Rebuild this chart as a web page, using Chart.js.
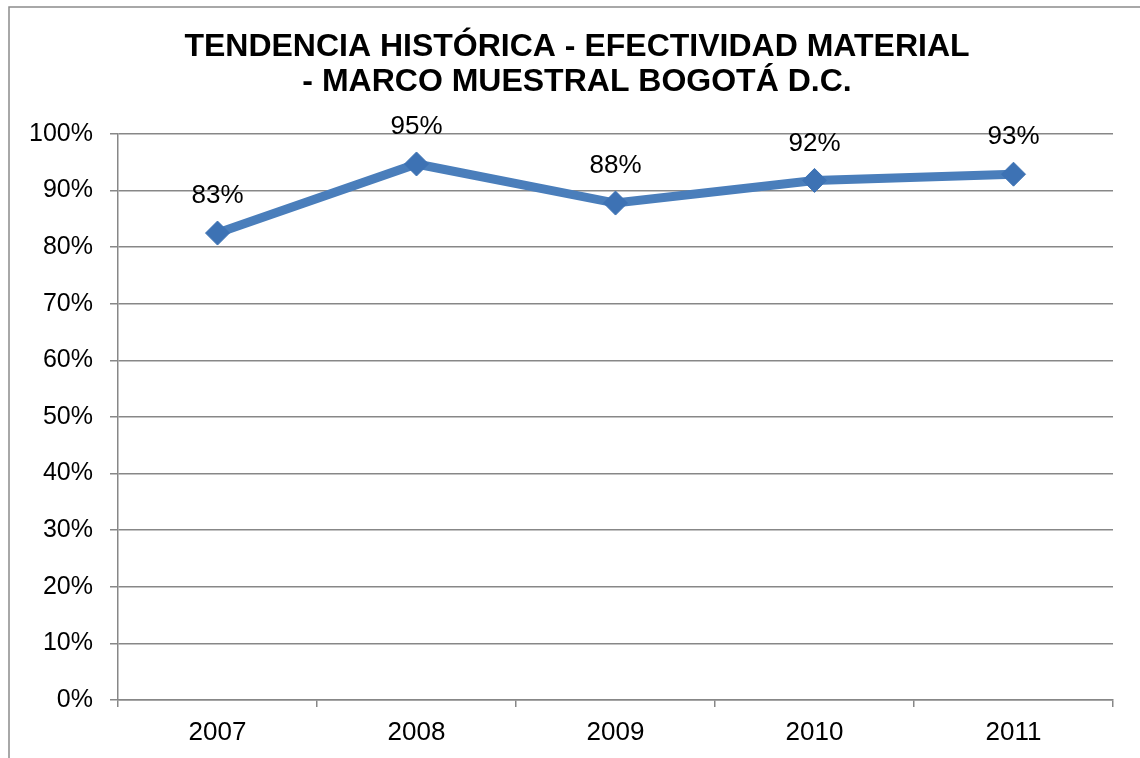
<!DOCTYPE html>
<html>
<head>
<meta charset="utf-8">
<script src="https://cdn.jsdelivr.net/npm/chart.js@4"></script>
<style>
  html, body { margin: 0; padding: 0; background: #fff; }
  #wrap { width: 1140px; height: 758px; }
</style>
</head>
<body>
<div id="wrap"><canvas id="trendChart" width="1140" height="758"></canvas></div>
<script>
var years = ['2007', '2008', '2009', '2010', '2011'];
var efectividad = [82.5, 94.7, 87.8, 91.8, 92.9];
var etiquetas = ['83%', '95%', '88%', '92%', '93%'];
var titleLines = ['TENDENCIA HISTÓRICA - EFECTIVIDAD MATERIAL', '- MARCO MUESTRAL BOGOTÁ D.C.'];

var FONT = '"Liberation Sans", Arial, sans-serif';
var GRID = '#878787';

// frame + title + point labels
var decor = {
  id: 'decor',
  beforeDraw: function(chart) {
    var ctx = chart.ctx;
    ctx.save();
    ctx.fillStyle = '#fff';
    ctx.fillRect(0, 0, chart.width, chart.height);
    ctx.strokeStyle = '#8c8c8c';
    ctx.lineWidth = 1.5;
    ctx.strokeRect(9, 7, chart.width + 20, chart.height + 20);
    ctx.restore();
  },
  afterDraw: function(chart) {
    var ctx = chart.ctx;
    ctx.save();
    ctx.fillStyle = '#000';
    ctx.textAlign = 'center';
    ctx.textBaseline = 'middle';
    ctx.font = 'bold 32px ' + FONT;
    ctx.fillText(titleLines[0], 577, 47);
    ctx.fillText(titleLines[1], 577, 82);
    ctx.font = '26px ' + FONT;
    var meta = chart.getDatasetMeta(0);
    meta.data.forEach(function(pt, i) {
      ctx.fillText(etiquetas[i], pt.x, pt.y - 37);
    });
    ctx.restore();
  }
};

new Chart(document.getElementById('trendChart'), {
  type: 'line',
  data: {
    labels: years,
    datasets: [{
      data: efectividad,
      borderColor: '#4a7ebb',
      borderWidth: 9,
      backgroundColor: '#3d72b4',
      pointStyle: 'rectRot',
      pointRadius: 12,
      pointHoverRadius: 12,
      pointBackgroundColor: '#3d72b4',
      pointBorderColor: '#3d72b4',
      pointBorderWidth: 1,
      tension: 0
    }]
  },
  options: {
    responsive: false,
    animation: false,
    events: [],
    layout: { padding: { left: 10, right: 27, top: 134, bottom: 0 } },
    plugins: {
      legend: { display: false },
      title: { display: false },
      tooltip: { enabled: false }
    },
    scales: {
      y: {
        min: 0,
        max: 100,
        afterFit: function(s) { s.width = 108; },
        ticks: {
          stepSize: 10,
          padding: 17,
          color: '#000',
          font: { family: FONT, size: 25 },
          callback: function(v) { return v + '%'; }
        },
        grid: { color: GRID, lineWidth: 1.5, tickLength: 8 },
        border: { color: GRID, width: 1.5 }
      },
      x: {
        offset: true,
        afterFit: function(s) { s.height = 58; },
        ticks: {
          padding: 10,
          color: '#000',
          font: { family: FONT, size: 26 }
        },
        grid: { offset: true, drawOnChartArea: false, color: GRID, lineWidth: 1.5, tickLength: 7 },
        border: { color: GRID, width: 1.5 }
      }
    }
  },
  plugins: [decor]
});
</script>
</body>
</html>
